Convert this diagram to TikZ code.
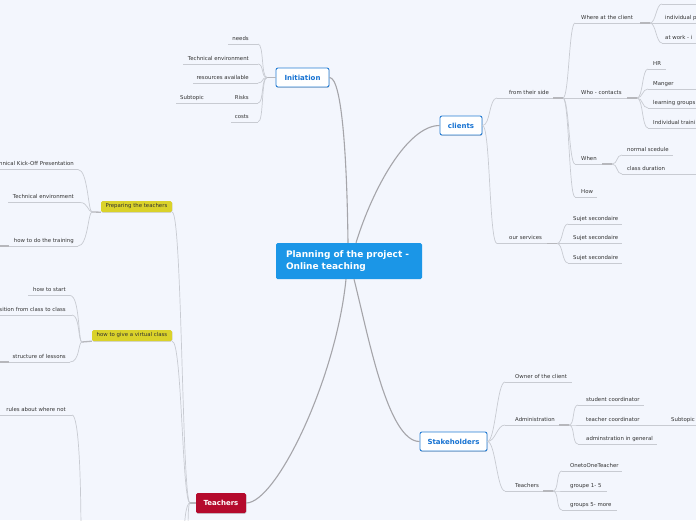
\documentclass[tikz,border=0pt]{standalone}
\usepackage{fontspec}
\setmainfont{DejaVu Sans}
\usetikzlibrary{shadows}
\definecolor{bg}{RGB}{243,246,253}
\definecolor{cblue}{RGB}{27,150,231}
\definecolor{bblue}{RGB}{38,125,212}
\definecolor{tblue}{RGB}{22,114,210}
\definecolor{tred}{RGB}{181,10,45}
\definecolor{tyel}{RGB}{218,210,42}
\definecolor{txt}{RGB}{51,51,51}
\definecolor{lgray}{RGB}{200,203,210}
\definecolor{mgray}{RGB}{165,165,170}
\definecolor{sgray}{RGB}{182,183,188}
\tikzset{
  leaf/.style={font=\fontsize{5.4}{6}\selectfont, text=txt, inner sep=0pt},
  uline/.style={draw=lgray, line width=0.7pt},
  conn/.style={draw=lgray, line width=0.7pt},
  stub/.style={draw=sgray, line width=1.3pt},
  main/.style={draw=mgray, line width=1.1pt},
  topicbox/.style={draw=bblue, line width=0.9pt, fill=white, rounded corners=2pt,
    text=tblue, font=\fontsize{7}{8}\selectfont\bfseries, inner sep=0pt,
    minimum height=19pt,
    drop shadow={shadow xshift=0.4pt, shadow yshift=-0.7pt, opacity=0.25, fill=black}},
  yelbox/.style={fill=tyel, rounded corners=1.5pt, inner sep=0pt, minimum height=11pt,
    font=\fontsize{5.4}{6}\selectfont, text=txt,
    drop shadow={shadow xshift=0.3pt, shadow yshift=-0.6pt, opacity=0.2, fill=black}},
}
% name, anchor side, text x, underline y, x1, x2, text
\newcommand\mmleaf[7]{%
  \node[leaf,anchor=base #2] (#1) at (#3,#4-3.6) {#7};
  \coordinate (#1-l) at (#5,#4);
  \coordinate (#1-r) at (#6,#4);
  \draw[uline] (#1-l) -- (#1-r);}
\newcommand\rconn[2]{\draw[conn] (#1) .. controls +(6,0) and +(-6,0) .. (#2-l);}
\newcommand\lconn[2]{\draw[conn] (#1) .. controls +(-6,0) and +(6,0) .. (#2-r);}
\newcommand\rstub[1]{\draw[stub] ([xshift=-10pt]#1-r) -- (#1-r);}
\begin{document}
\begin{tikzpicture}[x=1pt,y=-1pt]
\useasboundingbox (0,0) rectangle (696,520);
\fill[bg] (0,0) rectangle (696,520);
\clip (0,0) rectangle (696,520);

% ---------- main nodes ----------
\node[fill=cblue, rounded corners=1.5pt, minimum width=146pt, minimum height=36pt,
  inner sep=0pt, text width=126pt, align=left, text=white,
  font=\fontsize{9}{12}\selectfont\bfseries] (central) at (349,261)
  {Planning of the project -\\Online teaching};
\node[topicbox, minimum width=53pt] (init) at (302.5,77.5) {Initiation};
\node[topicbox, minimum width=42pt] (clients) at (461,125.5) {clients};
\node[topicbox, minimum width=67pt] (sh) at (453.5,441.5) {Stakeholders};
\node[fill=tred, rounded corners=1.5pt, minimum width=50pt, minimum height=20pt,
  inner sep=0pt, text=white, font=\fontsize{7}{8}\selectfont\bfseries,
  drop shadow={shadow xshift=0.4pt, shadow yshift=-0.7pt, opacity=0.25, fill=black}]
  (teach) at (221,503) {Teachers};
\node[yelbox, minimum width=71pt] (prep) at (136.5,206.5) {Preparing the teachers};
\node[yelbox, minimum width=80pt] (virt) at (132,335.5) {how to give a virtual class};

% ---------- main connectors ----------
\draw[main] ([xshift=-1pt]central.north) .. controls +(-1,-80) and +(13,0) .. (init.east);
\draw[main] ([xshift=7pt]central.north) .. controls +(17,-55) and +(-32,0) .. (clients.west);
\draw[main] ([xshift=5pt]central.south) .. controls +(14,55) and +(-32,0) .. (sh.west);
\draw[main] ([xshift=-3pt]central.south) .. controls +(-10,100) and +(30,0) .. (teach.east);

% ---------- Initiation ----------
\coordinate (iJ) at (267,77.5);
\draw[stub] (iJ) -- (init.west);
\mmleaf{needs}{east}{249}{44}{228}{258}{needs}
\mmleaf{tenv}{east}{249}{64}{183}{258}{Technical environment}
\mmleaf{res}{east}{249}{83}{193}{258}{resources available}
\mmleaf{risks}{east}{249}{103}{226}{258}{Risks}
\mmleaf{subA}{west}{180}{103}{176}{226}{Subtopic}
\mmleaf{costs}{east}{249}{122}{231}{258}{costs}
\lconn{iJ}{needs}
\lconn{iJ}{tenv}
\lconn{iJ}{res}
\lconn{iJ}{risks}
\lconn{iJ}{costs}

% ---------- clients ----------
\mmleaf{fts}{west}{509}{98}{497}{563}{from their side}
\mmleaf{os}{west}{509}{243.5}{497}{557}{our services}
\rstub{fts}
\rstub{os}
\draw[conn] (clients.east) .. controls +(8,0) and +(-8,0) .. (fts-l);
\draw[conn] (clients.east) .. controls +(8,0) and +(-8,0) .. (os-l);

\mmleaf{wac}{west}{581}{23}{575}{650}{Where at the client}
\mmleaf{who}{west}{581}{98}{575}{637}{Who - contacts}
\mmleaf{when}{west}{581}{164}{575}{612}{When}
\mmleaf{how}{west}{581}{197}{575}{597}{How}
\rstub{wac}
\rstub{who}
\rstub{when}
\rconn{fts-r}{wac}
\rconn{fts-r}{who}
\rconn{fts-r}{when}
\rconn{fts-r}{how}

\coordinate (wz-l) at (662,4);
\coordinate (wz-r) at (700,4);
\draw[uline] (wz-l) -- (wz-r);
\mmleaf{wa}{west}{665}{23}{662}{700}{individual p}
\mmleaf{wb}{west}{665}{43}{662}{700}{at work - i}
\rconn{wac-r}{wz}
\rconn{wac-r}{wa}
\rconn{wac-r}{wb}

\mmleaf{hr}{west}{653}{69}{648}{666}{HR}
\mmleaf{man}{west}{653}{89}{648}{700}{Manger}
\mmleaf{lg}{west}{653}{108}{648}{700}{learning groups}
\mmleaf{it}{west}{653}{128}{648}{700}{Individual traini}
\rconn{who-r}{hr}
\rconn{who-r}{man}
\rconn{who-r}{lg}
\rconn{who-r}{it}

\mmleaf{ns}{west}{627}{155}{622}{673}{normal scedule}
\mmleaf{cd}{west}{627}{174}{622}{700}{class duration}
\rconn{when-r}{ns}
\rconn{when-r}{cd}

\mmleaf{ssa}{west}{573}{224}{568}{622}{Sujet secondaire}
\mmleaf{ssb}{west}{573}{243.5}{568}{622}{Sujet secondaire}
\mmleaf{ssc}{west}{573}{263}{568}{622}{Sujet secondaire}
\rconn{os-r}{ssa}
\rconn{os-r}{ssb}
\rconn{os-r}{ssc}

% ---------- Stakeholders ----------
\mmleaf{own}{west}{515}{382}{505}{572}{Owner of the client}
\mmleaf{adm}{west}{515}{425}{505}{569}{Administration}
\mmleaf{stt}{west}{515}{491}{505}{553}{Teachers}
\rstub{adm}
\rstub{stt}
\draw[conn] (sh.east) .. controls +(8,0) and +(-8,0) .. (own-l);
\draw[conn] (sh.east) .. controls +(8,0) and +(-8,0) .. (adm-l);
\draw[conn] (sh.east) .. controls +(8,0) and +(-8,0) .. (stt-l);

\mmleaf{stc}{west}{586}{405}{578}{644}{student coordinator}
\mmleaf{tec}{west}{586}{425}{578}{664}{teacher coordinator}
\mmleaf{subB}{west}{671}{425}{664}{700}{Subtopic}
\mmleaf{aig}{west}{586}{444}{578}{657}{adminstration in general}
\rconn{adm-r}{stc}
\rconn{adm-r}{tec}
\rconn{adm-r}{aig}

\mmleaf{oto}{west}{570}{471}{562}{622}{OnetoOneTeacher}
\mmleaf{gfa}{west}{570}{491}{562}{607}{groupe 1- 5}
\mmleaf{gfb}{west}{570}{510}{562}{617}{groups 5- more}
\rconn{stt-r}{oto}
\rconn{stt-r}{gfa}
\rconn{stt-r}{gfb}

% ---------- Teachers ----------
\coordinate (tJ) at (190,503);
\draw[stub] (tJ) -- (teach.west);
\draw[conn] (prep.south east) .. controls +(10,0) and +(-8,0) .. (tJ);
\draw[conn] (virt.south east) .. controls +(10,0) and +(-8,0) .. (tJ);
\coordinate (offB) at (184,545);
\coordinate (offC) at (188,545);
\draw[conn] (tJ) .. controls +(-4,0) and +(0,-25) .. (offB);
\draw[conn] (tJ) .. controls +(-2,0) and +(0,-25) .. (offC);

\coordinate (pJ) at (92,212);
\draw[stub] (pJ) -- (prep.south west);
\mmleaf{kick}{east}{74}{169.5}{-30}{78}{Technical Kick-Off Presentation}
\mmleaf{tenvb}{east}{74}{202.5}{8}{80}{Technical environment}
\mmleaf{train}{east}{74}{246}{-10}{78}{how to do the training}
\draw[stub] (train-l) -- (9,246);
\draw[conn] (pJ) .. controls +(-4,0) and +(10,0) .. (kick-r);
\draw[conn] (pJ) .. controls +(-4,0) and +(8,0) .. (tenvb-r);
\draw[conn] (pJ) .. controls +(-4,0) and +(10,0) .. (train-r);

\coordinate (vJ) at (82,342);
\draw[stub] (vJ) -- (virt.south west);
\mmleaf{hts}{east}{66}{295.5}{28}{70}{how to start}
\mmleaf{trn}{east}{66}{315}{-30}{72}{transition from class to class}
\mmleaf{sol}{east}{66}{362}{-10}{70}{structure of lessons}
\draw[stub] (sol-l) -- (9,362);
\draw[conn] (vJ) .. controls +(-4,0) and +(10,0) .. (hts-r);
\draw[conn] (vJ) .. controls +(-4,0) and +(8,0) .. (trn-r);
\draw[conn] (vJ) .. controls +(-4,0) and +(10,0) .. (sol-r);

\mmleaf{rules}{east}{66}{415}{-10}{72}{rules about where not}
\coordinate (offA) at (81,540);
\draw[conn] (rules-r) .. controls +(7,0) and +(0,-60) .. (offA);
\end{tikzpicture}
\end{document}
